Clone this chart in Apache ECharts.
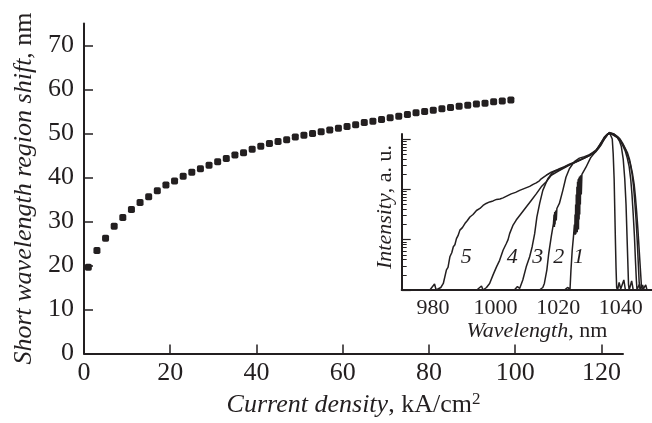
<!DOCTYPE html>
<html>
<head>
<meta charset="utf-8">
<script src="https://cdn.jsdelivr.net/npm/echarts@6/dist/echarts.min.js"></script>
<style>
  html, body { margin: 0; padding: 0; background: #fff; }
  #chart { width: 652px; height: 423px; }
</style>
</head>
<body>
<div id="chart"></div>
<script>
// main plot: short-wavelength shift vs current density
const currentDensity = [1, 3, 5, 7, 9, 11, 13, 15, 17, 19, 21, 23, 25, 27, 29, 31, 33, 35, 37, 39,
    41, 43, 45, 47, 49, 51, 53, 55, 57, 59, 61, 63, 65, 67, 69, 71, 73, 75, 77, 79,
    81, 83, 85, 87, 89, 91, 93, 95, 97, 99];
const shortShift = [19.6, 23.4, 26.2, 28.9, 30.9, 32.7, 34.3, 35.6, 37.0, 38.3, 39.2, 40.3, 41.2, 42.0, 42.8, 43.6, 44.3, 45.1, 45.6, 46.4,
    47.1, 47.7, 48.2, 48.6, 49.2, 49.6, 50.0, 50.4, 50.8, 51.2, 51.6, 52.0, 52.5, 52.8, 53.2, 53.6, 53.9, 54.3, 54.7, 55.0,
    55.3, 55.6, 55.9, 56.2, 56.4, 56.7, 56.9, 57.2, 57.4, 57.6];

// inset: spectra, [wavelength nm, log10 intensity]
const spectrum1 = [[1018, 0], [1022, 0], [1023, 0.05], [1023.8, 0.02], [1024.1, 0.4], [1024.5, 0.79], [1024.9, 1.06], [1025.2, 1.3],
    [1025.3, 1.1], [1025.4, 1.5], [1025.5, 1.1], [1025.6, 1.7], [1025.7, 1.12], [1025.8, 1.9], [1025.9, 1.2], [1026.0, 2.05],
    [1026.1, 1.15], [1026.2, 2.15], [1026.3, 1.3], [1026.4, 2.2], [1026.5, 1.2], [1026.6, 2.22], [1026.7, 1.4], [1026.8, 2.25],
    [1026.9, 1.5], [1027.0, 2.26], [1027.1, 1.7], [1027.2, 2.28], [1027.4, 1.9], [1027.6, 2.3], [1027.9, 2.31], [1028.9, 2.44],
    [1030, 2.58], [1030.5, 2.64], [1031.6, 2.72], [1032.4, 2.8], [1033, 2.86], [1033.7, 2.93],
    [1034.3, 2.99], [1034.8, 3.04], [1035.4, 3.08], [1035.8, 3.1], [1036.4, 3.13], [1036.9, 3.1], [1037.3, 3.0], [1037.6, 2.7],
    [1037.9, 2.2], [1038.1, 1.6], [1038.3, 1.0], [1038.5, 0.45], [1038.7, 0.05], [1039, 0], [1039.5, 0.15], [1040, 0.02],
    [1041, 0.2], [1041.5, 0], [1050, 0]];
const spectrum2 = [[1010, 0], [1014, 0], [1015.1, 0.05], [1015.6, 0.13], [1016.4, 0.4], [1017, 0.73], [1017.8, 1.06], [1018.5, 1.32],
    [1018.7, 1.5], [1018.8, 1.25], [1018.9, 1.55], [1019, 1.3], [1019.2, 1.58], [1019.4, 1.38], [1019.6, 1.62], [1020.4, 1.72],
    [1021.5, 1.98], [1022.5, 2.24],
    [1023.6, 2.41], [1025.2, 2.55], [1026.8, 2.62], [1028.4, 2.65], [1030, 2.69], [1031, 2.73], [1032.1, 2.78], [1033, 2.85],
    [1033.7, 2.92], [1034.3, 2.98], [1034.8, 3.03], [1035.4, 3.07], [1035.8, 3.1], [1036.4, 3.12], [1037, 3.1], [1037.6, 3.09],
    [1038.3, 3.06], [1039, 3.02], [1039.6, 2.96], [1040.2, 2.85], [1040.8, 2.6], [1041.3, 2.2], [1041.7, 1.7], [1042, 1.1],
    [1042.3, 0.5], [1042.5, 0.1], [1042.7, 0], [1043.5, 0.18], [1044, 0], [1050, 0]];
const spectrum3 = [[1002, 0], [1006, 0], [1007, 0.07], [1007.7, 0.03], [1008.7, 0.2], [1009.8, 0.46], [1010.9, 0.66], [1011.7, 0.86],
    [1012.5, 1.12], [1013.2, 1.45], [1014.1, 1.72], [1015.1, 1.98], [1016.7, 2.21], [1018.3, 2.34], [1020.4, 2.41], [1022, 2.45],
    [1023.6, 2.5], [1025.2, 2.54], [1026.8, 2.58], [1028.4, 2.63], [1030, 2.68], [1031, 2.72], [1032.1, 2.77], [1033, 2.84],
    [1033.7, 2.91], [1034.3, 2.97], [1034.8, 3.02], [1035.4, 3.07], [1035.8, 3.1], [1036.4, 3.13], [1036.9, 3.1], [1037.6, 3.08],
    [1038.2, 3.07], [1039, 3.03], [1039.8, 2.97], [1040.6, 2.88], [1041.4, 2.77], [1042.1, 2.62], [1042.7, 2.45], [1043.2, 2.2],
    [1043.6, 1.9], [1044, 1.5], [1044.4, 1.05], [1044.7, 0.6], [1045, 0.2], [1045.2, 0], [1046, 0.12], [1046.4, 0], [1050, 0]];
const spectrum4 = [[990, 0], [994, 0], [995.5, 0.08], [996, 0], [997.1, 0.05], [998.1, 0.13], [999.2, 0.3], [1000.3, 0.46],
    [1001.3, 0.59], [1002.4, 0.79], [1003.4, 0.92], [1004, 1.0], [1004.5, 1.12], [1005.6, 1.29], [1006.6, 1.39], [1008.2, 1.52],
    [1009.8, 1.65], [1011.4, 1.78], [1013, 1.91], [1014.6, 2.05], [1016.2, 2.15], [1017.8, 2.28], [1019.4, 2.34], [1020.5, 2.38],
    [1022, 2.43], [1023.6, 2.48], [1025.2, 2.53], [1026.8, 2.57], [1028.4, 2.62], [1030, 2.67], [1031, 2.71], [1032.1, 2.76],
    [1033, 2.83], [1033.7, 2.9], [1034.3, 2.96], [1034.8, 3.01], [1035.4, 3.06], [1035.8, 3.1], [1036.4, 3.12], [1036.9, 3.11],
    [1037.5, 3.08], [1038, 3.09], [1038.6, 3.06], [1039.2, 3.02], [1040, 2.96], [1040.8, 2.88], [1041.6, 2.78], [1042.3, 2.66],
    [1043, 2.52], [1043.6, 2.32], [1044.1, 2.06], [1044.5, 1.75], [1044.9, 1.4], [1045.3, 0.95], [1045.6, 0.55], [1045.9, 0.15],
    [1046.2, 0], [1047, 0.1], [1047.4, 0], [1050, 0]];
const spectrum5 = [[975, 0], [979, 0], [980.5, 0.12], [981, 0], [982.5, 0.05], [983.3, 0.13], [983.8, 0.1], [984.3, 0.4],
    [984.8, 0.45], [985.4, 0.66], [986, 0.74], [986.5, 0.86], [987, 0.9], [987.5, 1.02], [988, 1.08], [988.6, 1.19],
    [989.4, 1.24], [990.2, 1.32], [991, 1.38], [991.8, 1.45], [992.8, 1.5], [993.9, 1.58], [995, 1.62], [996, 1.68],
    [997, 1.72], [998.1, 1.75], [999.2, 1.77], [1000.3, 1.8], [1001.4, 1.81], [1002.4, 1.83], [1003.7, 1.87], [1005, 1.91],
    [1006.4, 1.94], [1007.7, 1.98], [1009.3, 2.02], [1010.9, 2.06], [1012, 2.1], [1013, 2.13], [1014, 2.17], [1014.6, 2.21],
    [1015.5, 2.25], [1016.2, 2.28], [1017, 2.31], [1017.8, 2.34], [1019.4, 2.38], [1020.4, 2.38], [1022, 2.44], [1023.6, 2.49],
    [1025.2, 2.53], [1026.8, 2.58], [1028.4, 2.62], [1030, 2.67], [1031, 2.7], [1032.1, 2.75], [1033, 2.82], [1033.7, 2.88],
    [1034.3, 2.95], [1034.8, 3.0], [1035.4, 3.05], [1035.8, 3.09], [1036.4, 3.11], [1036.9, 3.12], [1037.4, 3.1], [1037.9, 3.1],
    [1038.5, 3.07], [1039, 3.05], [1039.8, 3.0], [1040.6, 2.92], [1041.4, 2.82], [1042.2, 2.72], [1042.8, 2.6], [1043.2, 2.48],
    [1043.8, 2.3], [1044.3, 2.1], [1044.7, 1.85], [1045.1, 1.55], [1045.5, 1.2], [1045.9, 0.8], [1046.3, 0.4], [1046.6, 0.1],
    [1047, 0], [1048, 0.1], [1048.4, 0], [1050, 0]];
const spectra = [spectrum1, spectrum2, spectrum3, spectrum4, spectrum5];
const curveNames = ['1', '2', '3', '4', '5'];
const curveLabelPos = [[1026.6, 0.66], [1020.2, 0.66], [1013.5, 0.66], [1005.3, 0.66], [990.6, 0.66]];

const insetXLabels = [980, 1000, 1020, 1040];
const insetMajor = [0, 1, 2, 3];

// log-style minor ticks for the inset intensity axis
const insetMinor = [];
for (let d = 0; d < 3; d++) {
    for (let k = 2; k <= 9; k++) insetMinor.push(d + Math.log10(k));
}

const ink = '#231f20';
const serif = 'Liberation Serif';

const chart = echarts.init(document.getElementById('chart'), null, { renderer: 'canvas' });

let series = [{
    type: 'scatter',
    xAxisIndex: 0,
    yAxisIndex: 0,
    symbol: 'roundRect',
    symbolSize: 7,
    itemStyle: { color: ink, opacity: 1 },
    data: currentDensity.map((x, i) => [x, shortShift[i]]),
    z: 2
}];
spectra.forEach((s, i) => {
    series.push({
        type: 'line',
        name: curveNames[i],
        xAxisIndex: 1,
        yAxisIndex: 1,
        showSymbol: false,
        clip: false,
        lineStyle: { color: ink, width: 1.5, opacity: 1 },
        data: s,
        z: 3
    });
});
series.push({
    type: 'scatter',
    xAxisIndex: 1,
    yAxisIndex: 1,
    symbolSize: 1,
    itemStyle: { opacity: 1, color: 'rgba(0,0,0,0)' },
    label: {
        show: true,
        position: 'inside',
        formatter: p => p.name,
        fontFamily: serif,
        fontStyle: 'italic',
        fontSize: 22,
        color: ink
    },
    data: curveLabelPos.map((p, i) => ({ name: curveNames[i], value: p })),
    z: 4
});

const option = {
    backgroundColor: '#fff',
    animation: false,
    textStyle: { fontFamily: serif, color: ink },
    grid: [
        { left: 84, right: 29, top: 23.5, bottom: 69.5, outerBoundsMode: 'none', containLabel: false },
        { left: 401.7, right: 0, top: 134, bottom: 133, outerBoundsMode: 'none', containLabel: false }
    ],
    xAxis: [{
        gridIndex: 0,
        type: 'value',
        min: 0,
        max: 125,
        interval: 20,
        name: '{i|Current density}, kA/cm{s|2}',
        nameLocation: 'middle',
        nameGap: 35,
        nameTextStyle: {
            fontFamily: serif, fontSize: 26, color: ink,
            rich: {
                i: { fontFamily: serif, fontSize: 26, fontStyle: 'italic', color: ink },
                s: { fontFamily: serif, fontSize: 17, color: ink, verticalAlign: 'top', padding: [0, 0, 10, 0] }
            }
        },
        axisLine: { lineStyle: { color: ink, width: 2 } },
        axisTick: { inside: true, length: 9, lineStyle: { color: ink, width: 1.5 } },
        axisLabel: { fontFamily: serif, fontSize: 26, color: ink, margin: 7, formatter: v => String(v) },
        splitLine: { show: false }
    }, {
        gridIndex: 1,
        type: 'value',
        min: 970,
        max: 1050,
        name: '{i|Wavelength}, nm',
        nameLocation: 'middle',
        nameGap: 27,
        nameTextStyle: {
            fontFamily: serif, fontSize: 22, color: ink, padding: [0, 0, 0, 20],
            rich: { i: { fontFamily: serif, fontSize: 22, fontStyle: 'italic', color: ink } }
        },
        axisLine: { lineStyle: { color: ink, width: 2 } },
        axisTick: { show: false },
        axisLabel: { customValues: insetXLabels, fontFamily: serif, fontSize: 22, color: ink, margin: 7, formatter: v => String(v) },
        splitLine: { show: false }
    }],
    yAxis: [{
        gridIndex: 0,
        type: 'value',
        min: 0,
        max: 75,
        interval: 10,
        name: '{i|Short wavelength region shift}, nm',
        nameLocation: 'middle',
        nameGap: 47,
        nameTextStyle: {
            fontFamily: serif, fontSize: 26, color: ink,
            rich: { i: { fontFamily: serif, fontSize: 26, fontStyle: 'italic', color: ink } }
        },
        axisLine: { lineStyle: { color: ink, width: 2 } },
        axisTick: { inside: true, length: 9, lineStyle: { color: ink, width: 1.5 } },
        axisLabel: { fontFamily: serif, fontSize: 26, color: ink, margin: 10 },
        splitLine: { show: false }
    }, {
        gridIndex: 1,
        type: 'value',
        position: 'left',
        min: 0,
        max: 3.1,
        name: '{i|Intensity}, a. u.',
        nameLocation: 'middle',
        nameGap: 5,
        nameTextStyle: {
            fontFamily: serif, fontSize: 22, color: ink, padding: [0, 0, 0, 10],
            rich: { i: { fontFamily: serif, fontSize: 22, fontStyle: 'italic', color: ink } }
        },
        axisLine: { lineStyle: { color: ink, width: 2 } },
        axisTick: { inside: true, length: 9, customValues: insetMajor, lineStyle: { color: ink, width: 1.2 } },
        axisLabel: { show: false },
        splitLine: { show: false }
    }, {
        gridIndex: 1,
        type: 'value',
        position: 'left',
        offset: 0,
        min: 0,
        max: 3.1,
        axisLine: { show: false },
        axisTick: { inside: true, length: 5, customValues: insetMinor, lineStyle: { color: ink, width: 1 } },
        axisLabel: { show: false },
        splitLine: { show: false }
    }],
    series: series
};

chart.setOption(option);
</script>
</body>
</html>
